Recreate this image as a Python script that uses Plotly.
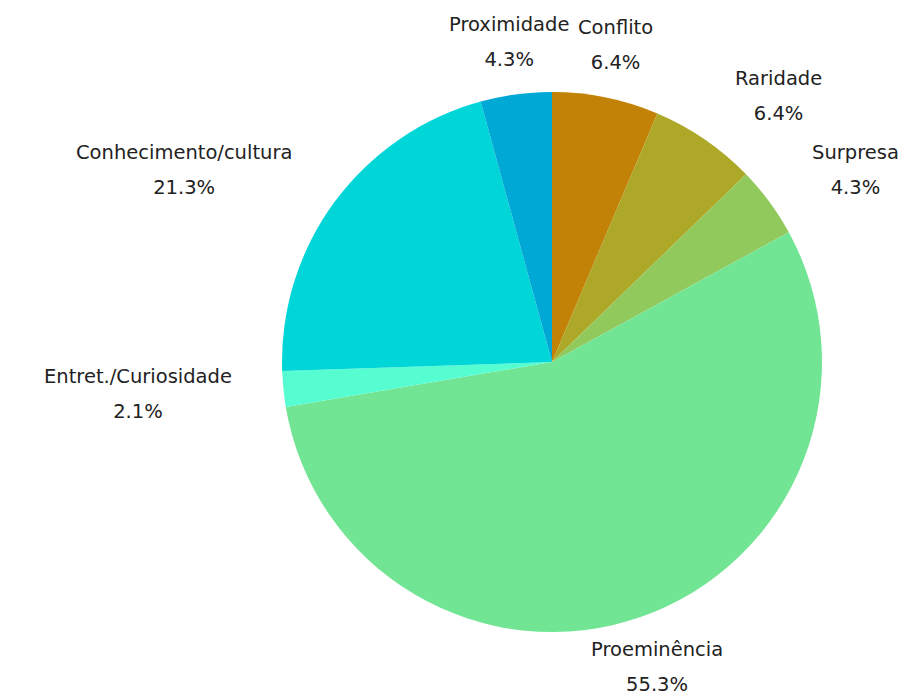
import math
import plotly.graph_objects as go

# Categories and counts, listed clockwise from 12 o'clock
categories = ["Conflito", "Raridade", "Surpresa", "Proeminência",
              "Entret./Curiosidade", "Conhecimento/cultura", "Proximidade"]
counts = [3, 3, 2, 26, 1, 10, 2]
colors = ["#c28208", "#ada828", "#92c95c", "#72e594",
          "#55fdd1", "#00d5d8", "#00a8d5"]

W, H = 915, 693
# pie placement in paper fractions
dom_x = [282 / W, 822 / W]
dom_y = [1 - 632 / H, 1 - 92 / H]

fig = go.Figure(go.Pie(
    labels=categories,
    values=counts,
    sort=False,
    direction="clockwise",
    rotation=0,
    marker=dict(colors=colors, line=dict(width=0)),
    textinfo="none",
    hovertemplate="%{label}: %{percent:.1%}<extra></extra>",
    domain=dict(x=dom_x, y=dom_y),
    showlegend=False,
))

# Outside labels: each placed along its slice's mid-angle,
# pushed outward by half the label block height
cx = (dom_x[0] + dom_x[1]) / 2 * W
cy = (1 - (dom_y[0] + dom_y[1]) / 2) * H
rx, ry = 320, 288
half_block = 35
total = sum(counts)
acc = 0
annotations = []
for name, v in zip(categories, counts):
    mid = (acc + v / 2) / total * 2 * math.pi
    acc += v
    s, c = math.sin(mid), math.cos(mid)
    px = cx + rx * s
    py = cy - ry * c - half_block * c
    xanchor = "left" if s > 0.45 else ("right" if s < -0.45 else "center")
    pct = f"{v / total * 100:.1f}%"
    span = "<span style='font-size:19.5px'>{}</span>"
    annotations.append(dict(
        x=px / W, y=1 - py / H, xref="paper", yref="paper",
        xanchor=xanchor, yanchor="middle", align="center",
        text=span.format(name) + "<br>" + span.format(pct),
        showarrow=False,
        font=dict(family="DejaVu Sans", size=27, color="#222222"),
    ))

fig.update_layout(
    width=W, height=H,
    margin=dict(l=0, r=0, t=0, b=0),
    paper_bgcolor="white",
    plot_bgcolor="white",
    annotations=annotations,
)

fig.write_html("out.html")
